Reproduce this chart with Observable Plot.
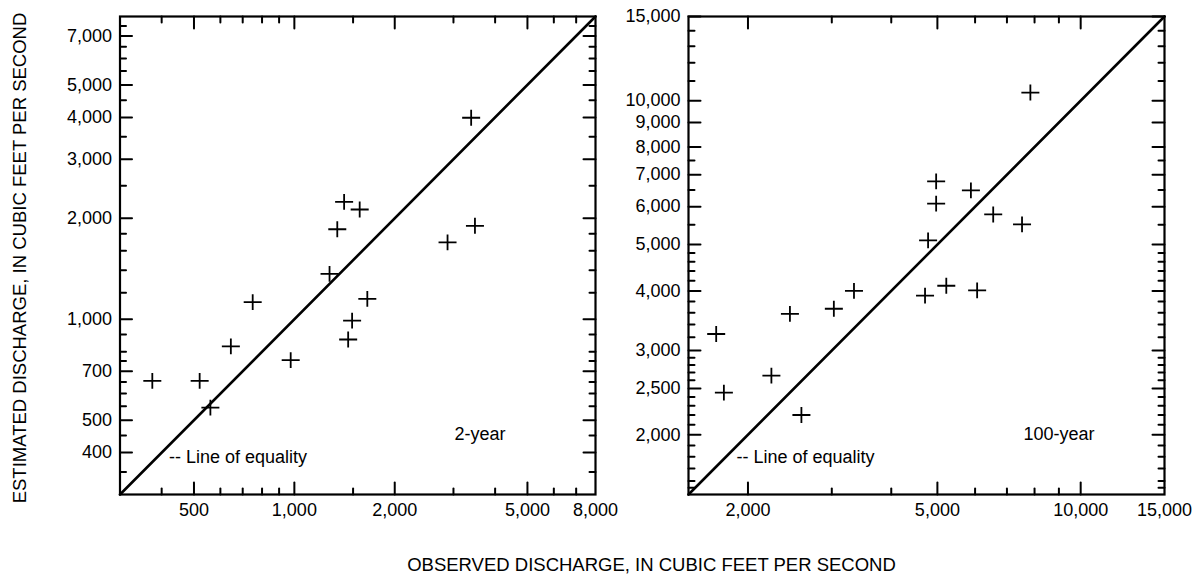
<!DOCTYPE html>
<html>
<head>
<meta charset="utf-8">
<script src="https://cdn.jsdelivr.net/npm/d3@7"></script>
<script src="https://cdn.jsdelivr.net/npm/@observablehq/plot@0.6"></script>
<style>
  html, body { margin: 0; padding: 0; background: white; }
  #wrap { position: relative; width: 1201px; height: 575px; overflow: hidden; font-family: "Liberation Sans", Arial, sans-serif; color: black; }
  #p1, #p2 { position: absolute; top: 0; }
  #p1 { left: 0; }
  #p2 { left: 620px; }
  .title { position: absolute; font-size: 18.5px; white-space: nowrap; line-height: 1; }
  #ytitle { left: 19.5px; top: 257.5px; transform: translate(-50%, -50%) rotate(-90deg); }
  #xtitle { left: 651.5px; top: 565px; transform: translate(-50%, -50%); }
</style>
</head>
<body>
<div id="wrap">
  <div id="p1"></div>
  <div id="p2"></div>
  <div class="title" id="ytitle">ESTIMATED DISCHARGE, IN CUBIC FEET PER SECOND</div>
  <div class="title" id="xtitle">OBSERVED DISCHARGE, IN CUBIC FEET PER SECOND</div>
</div>
<script>
// ---- 2-year panel data ----
const observed2 = [3390, 1410, 1570, 1345, 3480, 2880, 1275, 1655, 750, 1490, 1450, 645, 975, 375, 520, 560];
const estimated2 = [3990, 2240, 2125, 1855, 1900, 1695, 1365, 1150, 1125, 990, 870, 830, 755, 655, 655, 545];
const domain2 = [300, 8000];
const xLabels2 = [500, 1000, 2000, 5000, 8000];
const xMajor2 = [500, 1000, 2000, 5000];
const xMinor2 = [400, 600, 700, 800, 900, 1500, 3000, 4000, 6000, 7000];
const yLabels2 = [400, 500, 700, 1000, 2000, 3000, 4000, 5000, 7000];
const yMinor2 = [350, 450, 550, 600, 650, 750, 800, 900, 1200, 1400, 1600, 1800, 2500, 3500, 4500, 5500, 6000, 6500, 7500];

// ---- 100-year panel data ----
const observed100 = [7840, 4970, 5880, 4970, 6550, 7530, 4780, 5220, 6060, 4710, 3340, 3030, 2450, 1715, 1780, 2240, 2590];
const estimated100 = [10400, 6780, 6490, 6090, 5780, 5510, 5100, 4100, 4010, 3910, 4000, 3670, 3580, 3250, 2450, 2660, 2200];
const domain100 = [1500, 15000];
const xLabels100 = [2000, 5000, 10000, 15000];
const xMajor100 = [2000, 5000, 10000];
const xMinor100 = [3000, 4000, 6000, 7000, 8000, 9000];
const yLabels100 = [2000, 2500, 3000, 4000, 5000, 6000, 7000, 8000, 9000, 10000, 15000];
const yMinor100 = [1550, 1600, 1700, 1800, 1900, 2100, 2200, 2300, 2400, 2600, 2700, 2800, 2900, 3200, 3400, 3600, 3800, 4200, 4400, 4600, 4800, 5500, 6500, 7500, 11000, 12000, 13000, 14000];

const lineLabel = "-- Line of equality";
const periods = ["2-year", "100-year"];

const fmt = d3.format(",");

const plusSymbol = {
  draw(context, size) {
    const r = Math.sqrt(size / Math.PI);
    context.moveTo(-r, 0); context.lineTo(r, 0);
    context.moveTo(0, -r * 0.88); context.lineTo(0, r * 0.88);
  }
};

// straight tick stroke for vector marks
const tickShape = {
  draw(context, l) {
    context.moveTo(0, 0);
    context.lineTo(0, -l);
  }
};

function panel(o) {
  const pts = o.obs.map((v, i) => ({obs: v, est: o.est[i]}));
  const xt = (vals, len) => [
    Plot.vector(vals, {x: d => d, frameAnchor: "bottom", anchor: "start", length: len, rotate: 0, shape: tickShape, stroke: "black", strokeWidth: 2}),
    Plot.vector(vals, {x: d => d, frameAnchor: "top", anchor: "start", length: len, rotate: 180, shape: tickShape, stroke: "black", strokeWidth: 2})
  ];
  const yt = (vals, len) => [
    Plot.vector(vals, {y: d => d, frameAnchor: "left", anchor: "start", length: len, rotate: 90, shape: tickShape, stroke: "black", strokeWidth: 2}),
    Plot.vector(vals, {y: d => d, frameAnchor: "right", anchor: "start", length: len, rotate: -90, shape: tickShape, stroke: "black", strokeWidth: 2})
  ];
  return Plot.plot({
    width: o.width,
    height: 520,
    marginLeft: o.marginLeft,
    marginRight: o.marginRight,
    marginTop: 16,
    marginBottom: 26,
    x: {type: "log", domain: o.domain, axis: null},
    y: {type: "log", domain: o.domain, axis: null},
    style: {background: "none", overflow: "visible", fontFamily: "'Liberation Sans', Arial, sans-serif", fontSize: "18px", color: "black"},
    marks: [
      Plot.frame({stroke: "black", strokeWidth: 2.2}),
      ...xt(o.xMajor, 12),
      ...yt(o.yLabels, 12),
      ...xt(o.xMinor, 6),
      ...yt(o.yMinor, 6),
      Plot.text(o.xLabels, {x: d => d, text: d => fmt(d), frameAnchor: "bottom", lineAnchor: "top", dy: 9, fontSize: 18, fill: "black"}),
      Plot.text(o.yLabels, {y: d => d, text: d => fmt(d), frameAnchor: "left", textAnchor: "end", dx: -8, fontSize: 18, fill: "black"}),
      Plot.line(o.domain, {x: d => d, y: d => d, stroke: "black", strokeWidth: 2.6}),
      Plot.dot(pts, {x: "obs", y: "est", symbol: plusSymbol, r: 9, stroke: "black", fill: "none", strokeWidth: 1.8}),
      Plot.text([lineLabel], {frameAnchor: "bottom-left", dx: o.lineDx, dy: -31.5, textAnchor: "start", fontSize: 18, fill: "black"}),
      Plot.text([o.period], {frameAnchor: "bottom-right", dx: o.periodDx, dy: -55, textAnchor: "end", fontSize: 18, fill: "black"})
    ]
  });
}

document.getElementById("p1").append(panel({
  obs: observed2, est: estimated2, domain: domain2,
  xLabels: xLabels2, xMajor: xMajor2, xMinor: xMinor2,
  yLabels: yLabels2, yMinor: yMinor2,
  width: 620, marginLeft: 119.5, marginRight: 25,
  period: periods[0], lineDx: 49, periodDx: -90
}));

document.getElementById("p2").append(panel({
  obs: observed100, est: estimated100, domain: domain100,
  xLabels: xLabels100, xMajor: xMajor100, xMinor: xMinor100,
  yLabels: yLabels100, yMinor: yMinor100,
  width: 581, marginLeft: 68, marginRight: 37,
  period: periods[1], lineDx: 48, periodDx: -70
}));
</script>
</body>
</html>
